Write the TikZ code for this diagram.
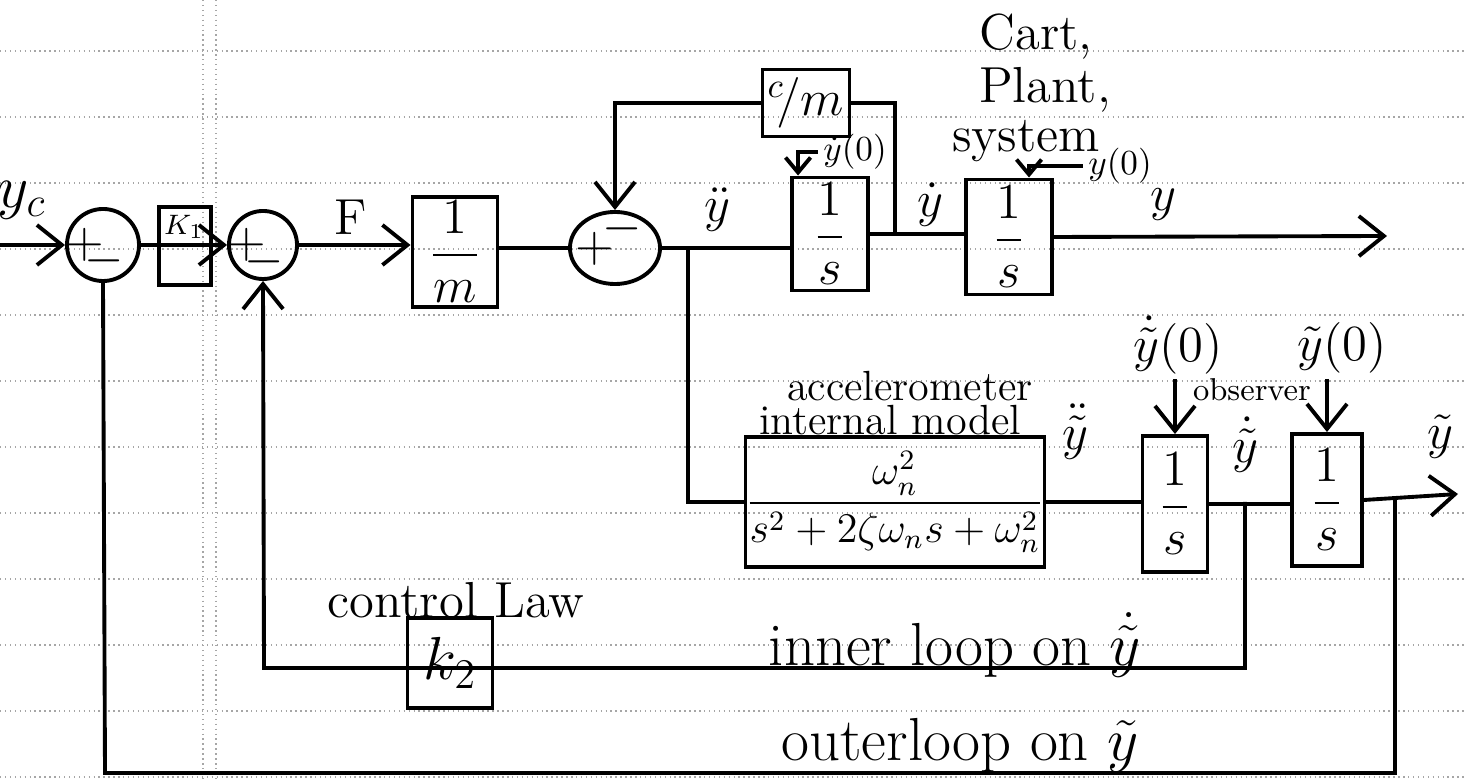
\documentclass[tikz,border=0pt]{standalone}
\usepackage{amsmath}
\usepackage{tikz}
\usetikzlibrary{
    arrows.meta,
    shapes.geometric
}

\begin{document}
\begin{tikzpicture}[x=0.01cm, y=-0.01cm, line width=1.1pt,
    >={Straight Barb[length=2.5mm,width=4mm]},
    icarrow/.style={-{Straight Barb[length=1.5mm,width=2.5mm]}},
    blk/.style={draw, rectangle, inner sep=0pt},
    sumj/.style={draw, circle, inner sep=0pt},
    lbl/.style={inner sep=1pt, font=\Large},
    ruled/.style={black!35, densely dotted, line width=0.4pt}]

\useasboundingbox (0,0) rectangle (1466,780);

% Paper
\foreach \k in {0,...,11}
  \draw[ruled] (0,{51+66*\k}) -- (1466,{51+66*\k});
\draw[ruled] (203,0) -- (203,780);
\draw[ruled] (216,0) -- (216,780);

% Summing junctions
\node[sumj, minimum size=0.72cm] (sum1) at (103,245) {};
\node[sumj, minimum size=0.68cm] (sum2) at (263,245) {};
\node[draw, ellipse, inner sep=0pt, minimum width=0.9cm, minimum height=0.72cm] (sum3) at (615,248) {};
\node[lbl] (sum1p) at (85,245) {$+$};
\node[lbl] (sum1m) at (104,261) {$-$};
\node[lbl] (sum2p) at (247,245) {$+$};
\node[lbl] (sum2m) at (264,262) {$-$};
\node[lbl] (sum3p) at (595,249) {$+$};
\node[lbl] (sum3m) at (622,229) {$-$};

% Blocks
\node[blk, minimum width=0.52cm, minimum height=0.78cm] (kone) at (185,246) {};
\node[lbl, font=\footnotesize] (konel) at (184,227) {$K_1$};
\node[blk, minimum width=0.85cm, minimum height=1.1cm, font=\Large] (mbox) at (455,252) {$\dfrac{1}{m}$};
\node[blk, minimum width=0.87cm, minimum height=0.67cm, font=\Large] (cmbox) at (806,103) {$^{c}\!/m$};
\node[blk, minimum width=0.76cm, minimum height=1.13cm, font=\Large] (intone) at (830,234) {$\dfrac{1}{s}$};
\node[blk, minimum width=0.86cm, minimum height=1.15cm, font=\Large] (inttwo) at (1009,237) {$\dfrac{1}{s}$};
\node[blk, minimum width=2.76cm, minimum height=1.3cm, font=\large] (acc) at (895,502) {$\dfrac{\omega_n^2}{s^2+2\zeta\omega_n s+\omega_n^2}$};
\node[blk, minimum width=0.65cm, minimum height=1.36cm, font=\Large] (obsone) at (1175,504) {$\dfrac{1}{s}$};
\node[blk, minimum width=0.7cm, minimum height=1.32cm, font=\Large] (obstwo) at (1327,500) {$\dfrac{1}{s}$};
\node[blk, minimum width=0.85cm, minimum height=0.9cm, font=\LARGE] (ktwo) at (450,663) {$k_2$};

% Forward path
\coordinate (yin) at (0,245);
\draw[->] (yin) -- (sum1);
\draw[->] (sum1) -- (sum2);
\draw[->] (sum2) -- (sum2 -| mbox.west);
\draw (mbox.east |- sum3) -- (sum3);
\draw (sum3) -- (sum3 -| intone.west);
\draw (intone.east) -- (intone.east -| inttwo.west);
\coordinate (yout) at (1387,236);
\draw[->] (inttwo.east) -- (yout);

% Damping feedback
\coordinate (tapB) at (895,234);
\draw (tapB) |- (cmbox.east);
\draw[->] (cmbox.west) -| (sum3.north);

% Initial conditions
\node[lbl, font=\normalsize] (ydz) at (855,152) {$\dot y(0)$};
\draw[icarrow] (ydz.west) -| ([xshift=0.08cm]intone.north west);
\node[lbl, font=\normalsize] (yz) at (1120,166) {$y(0)$};
\draw[icarrow] (yz.west) -| ([xshift=0.2cm]inttwo.north);
\node[lbl] (ytdz) at (1178,345) {$\dot{\tilde y}(0)$};
\draw[->] (ytdz.south -| obsone.north) -- (obsone.north);
\node[lbl] (ytz) at (1342,348) {$\tilde y(0)$};
\draw[->] (ytz.south -| obstwo.north) -- (obstwo.north);

% Observer
\coordinate (tapA) at (688,248);
\draw (tapA) |- (acc.west);
\draw (acc.east) -- (acc.east -| obsone.west);
\draw (obsone.east) -- (obsone.east -| obstwo.west);
\coordinate (yout2) at (1458,494);
\draw[->] (obstwo.east) -- (yout2);

% Loops
\coordinate (tapC) at (1245,502);
\coordinate (ilc) at (264,668);
\draw[->] (tapC) |- (ilc) -- (sum2.south);
\coordinate (tapD) at (1395,500);
\coordinate (olc) at (105,773);
\draw (tapD) |- (olc) -- (sum1.south);

% Labels
\node[lbl, font=\LARGE] (ycl) at (22,200) {$y_c$};
\node[lbl] (fl) at (351,217) {F};
\node[lbl] (yddl) at (717,210) {$\ddot y$};
\node[lbl] (ydl) at (930,205) {$\dot y$};
\node[lbl] (yl) at (1163,205) {$y$};
\node[lbl] (cartl) at (1036,37) {Cart,};
\node[lbl] (plantl) at (1045,90) {Plant,};
\node[lbl] (sysl) at (1026,141) {system};
\node[lbl, font=\large] (accl) at (910,386) {accelerometer};
\node[lbl, font=\large] (imodl) at (890,420) {internal model};
\node[lbl] (ytddl) at (1075,432) {$\ddot{\tilde y}$};
\node[lbl, font=\small] (obsl) at (1252,390) {observer};
\node[lbl] (ytdl) at (1245,445) {$\dot{\tilde y}$};
\node[lbl] (ytl) at (1440,437) {$\tilde y$};
\node[lbl] (ctll) at (456,600) {control Law};
\node[lbl, font=\LARGE] (innerl) at (955,645) {inner loop on $\dot{\tilde y}$};
\node[lbl, font=\LARGE] (outerl) at (960,745) {outerloop on $\tilde y$};

\end{tikzpicture}
\end{document}
